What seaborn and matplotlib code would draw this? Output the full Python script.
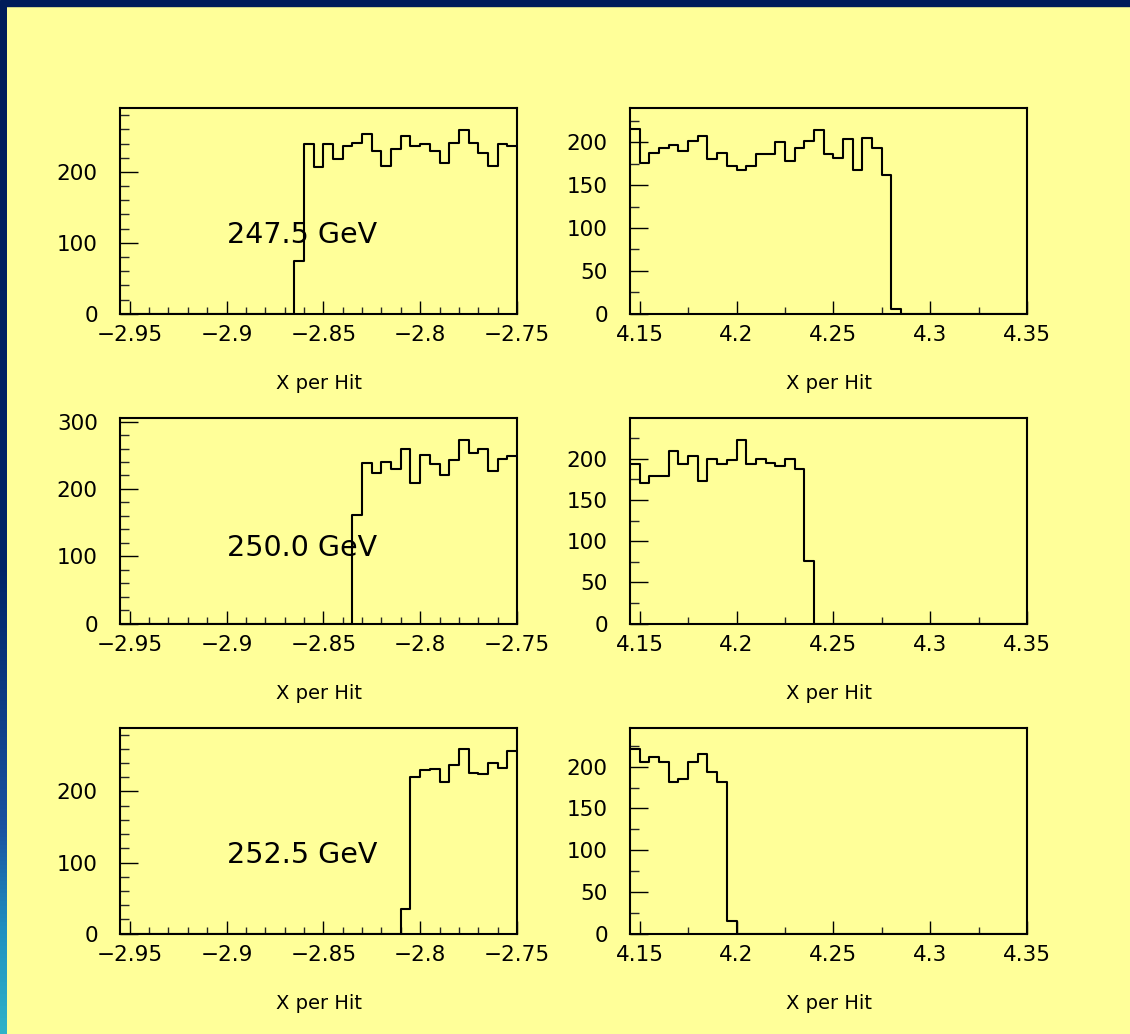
import matplotlib
matplotlib.use("Agg")
import matplotlib.pyplot as plt
import numpy as np
import pandas as pd
import seaborn as sns
from matplotlib.colors import LinearSegmentedColormap
from matplotlib.patches import Rectangle
from matplotlib.ticker import FuncFormatter, MultipleLocator

# 41 bins of 0.005 per panel
n_bins = 41
left_range = (-2.955, -2.75)
right_range = (4.145, 4.35)

energies = ["247.5 GeV", "250.0 GeV", "252.5 GeV"]

left_247 = [0, 0, 0, 0, 0, 0, 0, 0, 0, 0, 0, 0, 0, 0, 0, 0, 0, 0,
            75, 240, 207, 240, 218, 237, 241, 254, 230, 209, 232, 251,
            236, 239, 230, 213, 241, 259, 241, 227, 209, 240, 237]
left_250 = [0, 0, 0, 0, 0, 0, 0, 0, 0, 0, 0, 0, 0, 0, 0, 0, 0, 0, 0, 0,
            0, 0, 0, 0, 162, 238, 224, 240, 230, 260, 209, 250, 237, 220,
            243, 273, 253, 260, 226, 245, 249]
left_252 = [0, 0, 0, 0, 0, 0, 0, 0, 0, 0, 0, 0, 0, 0, 0, 0, 0, 0, 0, 0,
            0, 0, 0, 0, 0, 0, 0, 0, 0, 35, 220, 230, 232, 214, 237, 260,
            226, 224, 240, 233, 257]

right_247 = [216, 176, 188, 193, 197, 190, 202, 208, 181, 188, 172, 168,
             172, 186, 186, 200, 178, 193, 202, 214, 187, 182, 204, 168,
             205, 194, 162, 5, 0, 0, 0, 0, 0, 0, 0, 0, 0, 0, 0, 0, 0]
right_250 = [194, 171, 179, 179, 209, 194, 203, 173, 200, 193, 198, 223,
             193, 199, 195, 191, 200, 187, 76, 0, 0, 0, 0, 0, 0, 0, 0, 0,
             0, 0, 0, 0, 0, 0, 0, 0, 0, 0, 0, 0, 0]
right_252 = [221, 206, 212, 206, 181, 185, 205, 215, 193, 181, 15, 0, 0,
             0, 0, 0, 0, 0, 0, 0, 0, 0, 0, 0, 0, 0, 0, 0, 0, 0, 0, 0, 0,
             0, 0, 0, 0, 0, 0, 0, 0]

left_ymax = [290, 305, 289]
right_ymax = [240, 249, 246]

bg = "#ffff99"
navy = "#001c5a"

sns.set_style("ticks", {"axes.facecolor": bg, "figure.facecolor": bg,
                        "text.color": "black", "axes.labelcolor": "black"})
plt.rcParams["font.family"] = ["DejaVu Sans"]
plt.rcParams["axes.unicode_minus"] = True

W, H = 1130, 1034
fig = plt.figure(figsize=(W / 100, H / 100), dpi=100, facecolor=bg)


def fmt(v, pos):
    return ("%g" % round(v, 4)).replace("-", "\u2212")


def draw(ax, counts, xrange, ymax, left_side):
    edges = np.linspace(xrange[0], xrange[1], n_bins + 1)
    df = pd.DataFrame({"x": (edges[:-1] + edges[1:]) / 2, "count": counts})
    sns.histplot(data=df, x="x", weights="count", bins=n_bins, binrange=xrange,
                 element="step", fill=False, color="black", linewidth=1.5, ax=ax)
    ax.set_xlim(*xrange)
    ax.set_ylim(0, ymax)
    ax.set_facecolor(bg)
    ax.xaxis.set_major_locator(MultipleLocator(0.05))
    ax.xaxis.set_major_formatter(FuncFormatter(fmt))
    if left_side:
        ax.xaxis.set_minor_locator(MultipleLocator(0.01))
        ax.yaxis.set_major_locator(MultipleLocator(100))
        ax.yaxis.set_minor_locator(MultipleLocator(20))
    else:
        ax.xaxis.set_minor_locator(MultipleLocator(0.025))
        ax.yaxis.set_major_locator(MultipleLocator(50))
        ax.yaxis.set_minor_locator(MultipleLocator(25))
    ax.yaxis.set_major_formatter(FuncFormatter(fmt))
    ax.tick_params(axis="x", which="major", direction="in", length=9.5, width=1,
                   pad=8, labelsize=15.5, colors="black")
    ax.tick_params(axis="x", which="minor", direction="in", length=5, width=1)
    ax.tick_params(axis="y", which="major", direction="in", length=13, width=1,
                   pad=16, labelsize=15.5, colors="black")
    ax.tick_params(axis="y", which="minor", direction="in", length=6.5, width=1)
    for sp in ax.spines.values():
        sp.set_visible(True)
        sp.set_linewidth(1.5)
        sp.set_color("black")
    ax.set_ylabel("")
    ax.set_xlabel("X per Hit", fontsize=14, color="black")
    ax.xaxis.set_label_coords(0.5, -0.295)


w = 397 / W
h = 205.5 / H
bottoms = [720.3 / H, 410.3 / H, 100.3 / H]
lefts = [120 / W, 630 / W]

left_data = [left_247, left_250, left_252]
right_data = [right_247, right_250, right_252]

for i in range(3):
    axl = fig.add_axes([lefts[0], bottoms[i], w, h])
    draw(axl, left_data[i], left_range, left_ymax[i], True)
    axl.text(-2.9, 100, energies[i], fontsize=20.5, ha="left", va="baseline",
             color="black")

    axr = fig.add_axes([lefts[1], bottoms[i], w, h])
    draw(axr, right_data[i], right_range, right_ymax[i], False)

# window frame: navy top strip and gradient strip on the left
fig.add_artist(Rectangle((0, 1 - 6 / H), 1, 6 / H, transform=fig.transFigure,
                         color=navy, zorder=10))
strip = fig.add_axes([0, 0, 7 / W, 1 - 6 / H])
cmap = LinearSegmentedColormap.from_list(
    "edge", [(0.0, "#30b2c8"), (0.1, "#2090c0"), (0.2, "#1a52a0"),
             (0.45, "#002468"), (1.0, navy)])
grad = np.linspace(0, 1, 256).reshape(-1, 1)
strip.imshow(grad, cmap=cmap, aspect="auto", origin="lower")
strip.set_axis_off()

fig.savefig("out.png", dpi=100, facecolor=bg)
